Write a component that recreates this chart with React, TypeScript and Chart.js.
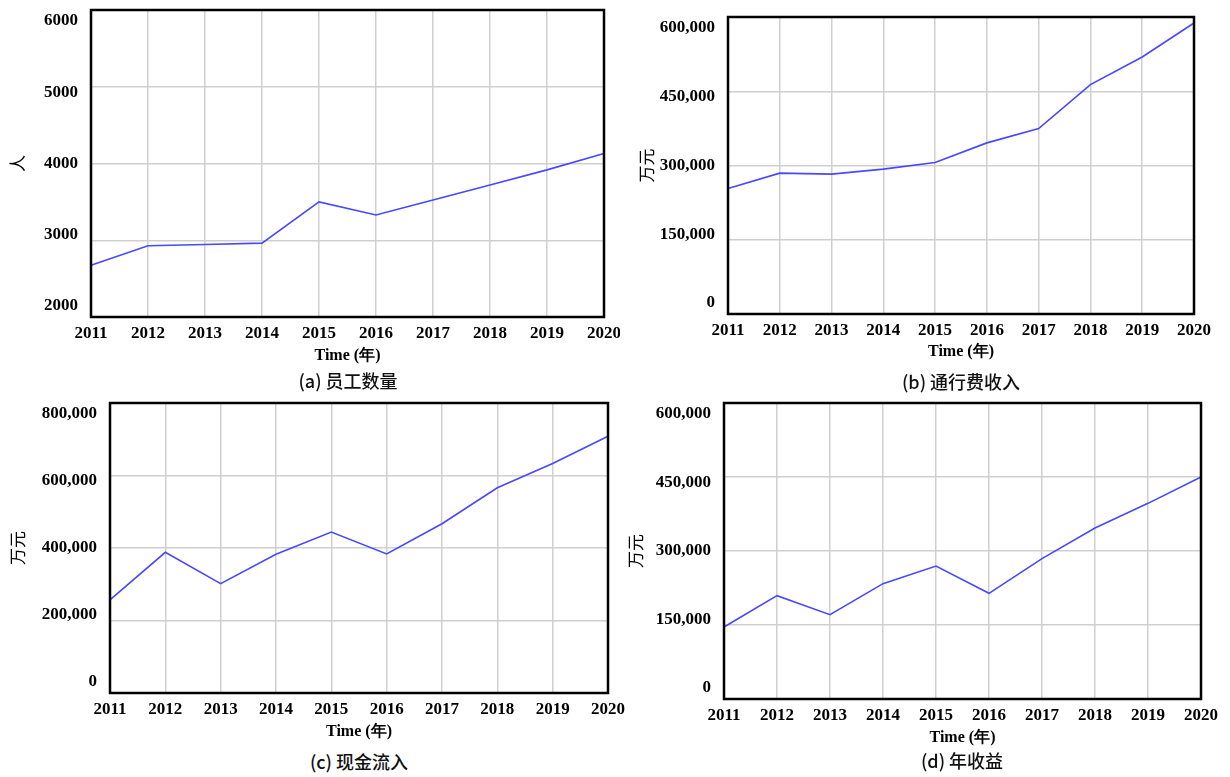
import React, { useEffect, useRef } from "react";
import { Chart, registerables } from "chart.js";

Chart.register(...registerables);

// ---------- data ----------
const years = ["2011", "2012", "2013", "2014", "2015", "2016", "2017", "2018", "2019", "2020"];
const staffCount = [2675, 2928, 2945, 2963, 3499, 3329, 3525, 3721, 3917, 4131];
const tollIncome = [253600, 284500, 282500, 292600, 306000, 345700, 374700, 463500, 519300, 587900];
const cashInflow = [256900, 388100, 301800, 382600, 444000, 383500, 467000, 566100, 633000, 708300];
const annualProfit = [145900, 209500, 170900, 233800, 269600, 214200, 284500, 346600, 396600, 450000];

const captions = ["(a) 员工数量", "(b) 通行费收入", "(c) 现金流入", "(d) 年收益"];
const yTitles = ["人", "万元", "万元", "万元"];
const xTitle = "Time (年)";
const yMins = [2000, 0, 0, 0];
const yMaxs = [6000, 600000, 800000, 600000];
const ySteps = [1000, 150000, 200000, 150000];
const useCommas = [false, true, true, true];

// ---------- layout (page pixels) ----------
type Box = {
  cl: number; ct: number; cw: number; ch: number;
  L: number; R: number; T: number; B: number;
  xTitleY: number; yTitleX: number;
  capX: number; capY: number;
};
const boxes: Box[] = [
  { cl: 0, ct: 0, cw: 620, ch: 372, L: 91, R: 604, T: 10, B: 317, xTitleY: 356, yTitleX: 18, capX: 348, capY: 380 },
  { cl: 620, ct: 0, cw: 610, ch: 372, L: 728, R: 1194, T: 17, B: 314, xTitleY: 352, yTitleX: 647, capX: 961, capY: 381 },
  { cl: 0, ct: 388, cw: 625, ch: 355, L: 110, R: 608, T: 403, B: 693, xTitleY: 732, yTitleX: 18, capX: 359, capY: 761 },
  { cl: 620, ct: 388, cw: 610, ch: 360, L: 724, R: 1201, T: 403, B: 699, xTitleY: 738, yTitleX: 636, capX: 962, capY: 760 },
];

const TICK_FONT = '"Liberation Serif", "Times New Roman", serif';
const CJK_FONT = '"Noto Sans CJK SC", "Noto Sans", sans-serif';

function fmt(v: number, commas: boolean) {
  return commas ? v.toLocaleString("en-US") : String(v);
}

const frameAndLabels = {
  id: "frameAndLabels",
  afterDraw(chart: any) {
    const { ctx, chartArea } = chart;
    const ys = chart.scales.y;
    const commas = chart.options.plugins.frameAndLabels.commas;
    ctx.save();
    ctx.strokeStyle = "#000";
    ctx.lineWidth = 2.5;
    ctx.strokeRect(chartArea.left, chartArea.top, chartArea.right - chartArea.left, chartArea.bottom - chartArea.top);
    ctx.font = "bold 17px " + TICK_FONT;
    ctx.fillStyle = "#000";
    ctx.textAlign = "right";
    ctx.textBaseline = "middle";
    const inset = 11;
    const span = chartArea.bottom - chartArea.top - 2 * inset;
    ys.ticks.forEach((t: any) => {
      const frac = (t.value - ys.min) / (ys.max - ys.min);
      const py = chartArea.bottom - inset - frac * span;
      ctx.fillText(fmt(t.value, commas), chartArea.left - 13, py);
    });
    ctx.restore();
  },
};

function Panel({ idx, values }: { idx: number; values: number[] }) {
  const ref = useRef<HTMLCanvasElement>(null);
  const b = boxes[idx];
  useEffect(() => {
    if (!ref.current) return;
    const xLineH = 16 * 1.2;
    const xBoxBottom = b.xTitleY + xLineH / 2;
    const xHeight = xBoxBottom - b.B;
    const yLineH = 17 * 1.2;
    const chart = new Chart(ref.current, {
      type: "line",
      data: {
        labels: years,
        datasets: [
          {
            data: values,
            borderColor: "#4848ff",
            borderWidth: 1.6,
            pointRadius: 0,
            tension: 0,
            fill: false,
          },
        ],
      },
      plugins: [frameAndLabels],
      options: {
        animation: false,
        responsive: false,
        events: [],
        layout: {
          padding: {
            left: 0,
            top: b.T - b.ct,
            right: b.cl + b.cw - b.R,
            bottom: b.ct + b.ch - xBoxBottom,
          },
        },
        plugins: {
          legend: { display: false },
          tooltip: { enabled: false },
          frameAndLabels: { commas: useCommas[idx] },
        } as any,
        scales: {
          x: {
            type: "category",
            offset: false,
            grid: { color: "#cfcfcf", lineWidth: 1.5, drawTicks: false },
            border: { display: false },
            ticks: {
              color: "#000",
              padding: 6,
              maxRotation: 0,
              autoSkip: false,
              font: { family: TICK_FONT, size: 17, weight: "bold" },
            },
            title: {
              display: true,
              text: xTitle,
              color: "#000",
              padding: 0,
              font: { family: TICK_FONT, size: 16, weight: "bold" },
            },
            afterFit(scale: any) {
              scale.height = xHeight;
              scale.paddingLeft = 0;
              scale.paddingRight = 0;
            },
          },
          y: {
            min: yMins[idx],
            max: yMaxs[idx],
            grid: { color: "#cfcfcf", lineWidth: 1.5, drawTicks: false },
            border: { display: false },
            ticks: { display: false, stepSize: ySteps[idx] },
            title: {
              display: true,
              text: yTitles[idx],
              color: "#000",
              padding: { top: b.yTitleX - b.cl - yLineH / 2, bottom: 0 },
              font: { family: CJK_FONT, size: 17 },
            },
            afterFit(scale: any) {
              scale.width = b.L - b.cl;
              scale.paddingTop = 0;
              scale.paddingBottom = 0;
            },
          },
        },
      } as any,
    });
    return () => chart.destroy();
  }, [idx, values]);
  return (
    <>
      <canvas
        ref={ref}
        width={b.cw}
        height={b.ch}
        style={{ position: "absolute", left: b.cl, top: b.ct, width: b.cw, height: b.ch }}
      />
      <div
        style={{
          position: "absolute",
          left: b.capX - 150,
          width: 300,
          top: b.capY - 13,
          height: 26,
          lineHeight: "26px",
          textAlign: "center",
          fontFamily: CJK_FONT,
          fontSize: 18,
          fontWeight: 500,
          color: "#111",
        }}
      >
        {captions[idx]}
      </div>
    </>
  );
}

export default function App() {
  return (
    <div style={{ position: "relative", width: 1230, height: 777 }}>
      <div style={{ position: "absolute", left: -8, top: -8, width: 1230, height: 777 }}>
        <Panel idx={0} values={staffCount} />
        <Panel idx={1} values={tollIncome} />
        <Panel idx={2} values={cashInflow} />
        <Panel idx={3} values={annualProfit} />
      </div>
    </div>
  );
}
